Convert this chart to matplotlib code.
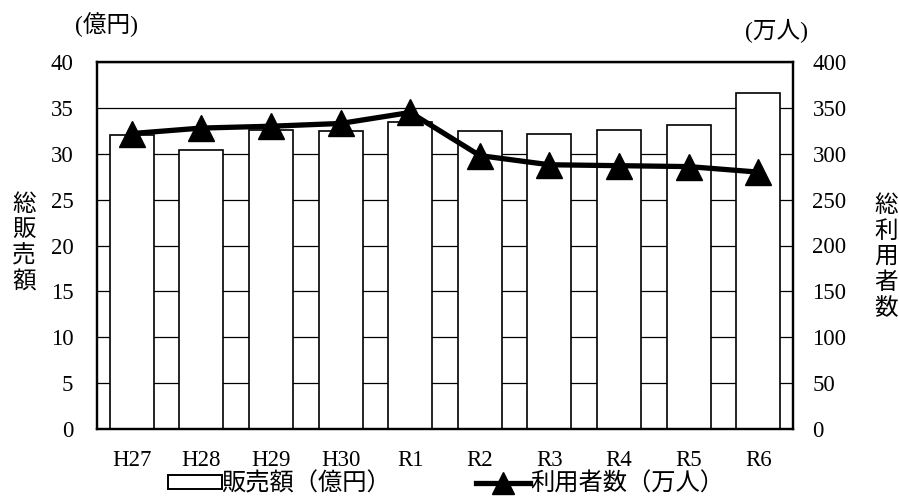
import matplotlib
matplotlib.use("Agg")
import matplotlib.pyplot as plt
from matplotlib.lines import Line2D
from matplotlib.patches import Patch

plt.rcParams['font.family'] = ['Liberation Serif', 'Noto Sans CJK JP', 'DejaVu Sans']

years = ["H27", "H28", "H29", "H30", "R1", "R2", "R3", "R4", "R5", "R6"]
sales = [32.0, 30.4, 32.6, 32.5, 33.5, 32.5, 32.1, 32.6, 33.1, 36.6]      # 億円
users = [322, 328, 330, 333, 345, 298, 288, 287, 286, 280]                 # 万人
left_ticks = [0, 5, 10, 15, 20, 25, 30, 35, 40]
right_ticks = [0, 50, 100, 150, 200, 250, 300, 350, 400]

W, H = 899, 497
fig = plt.figure(figsize=(W / 100, H / 100), dpi=100)
ax = fig.add_axes([97 / W, 1 - 429 / H, (793 - 97) / W, (429 - 62) / H])
ax2 = ax.twinx()

x = range(len(years))
fs = 16.5

# horizontal grid behind the bars
ax.set_axisbelow(True)
ax.yaxis.grid(True, color="black", linewidth=0.9)
ax.bar(x, sales, width=0.63, facecolor="white", edgecolor="black",
       linewidth=1.2, zorder=2)
ax.set_xlim(-0.5, len(years) - 0.5)
ax.set_ylim(0, 40)
ax.set_yticks(left_ticks)
ax.set_xticks(list(x))
ax.set_xticklabels(years)
ax.tick_params(axis="y", length=0, pad=17, labelsize=fs)
ax.tick_params(axis="x", length=0, pad=15, labelsize=fs)

ax2.plot(x, users, color="black", linewidth=3.8, marker="^",
         markersize=19, zorder=5)
ax2.set_ylim(0, 400)
ax2.set_yticks(right_ticks)
ax2.tick_params(axis="y", length=0, pad=14, labelsize=fs)

for a in (ax, ax2):
    for s in a.spines.values():
        s.set_linewidth(1.6)
        s.set_color("black")

# unit captions
fig.text(107 / W, 1 - 25 / H, "(億円)", ha="center", va="center", fontsize=17)
fig.text(777 / W, 1 - 31 / H, "(万人)", ha="center", va="center", fontsize=17)

# vertical axis titles, one character per line
step = 25.8
for i, ch in enumerate("総販売額"):
    fig.text(24 / W, 1 - (205 + i * step) / H, ch, ha="center", va="center",
             fontsize=17)
for i, ch in enumerate("総利用者数"):
    fig.text(886 / W, 1 - (206 + i * step) / H, ch, ha="center", va="center",
             fontsize=17)

handles = [
    Patch(facecolor="white", edgecolor="black", linewidth=1.4),
    Line2D([0], [0], color="black", linewidth=3.8, marker="^", markersize=16),
]
labels = ["販売額（億円）", "利用者数（万人）"]
fig.legend(handles, labels, loc="center", bbox_to_anchor=(446 / W, 1 - 484 / H),
           ncol=2, frameon=False, fontsize=17.5, handlelength=2.2,
           handleheight=0.45, handletextpad=0.0, columnspacing=3.5,
           borderpad=0, borderaxespad=0)

fig.savefig("out.png", dpi=100)
